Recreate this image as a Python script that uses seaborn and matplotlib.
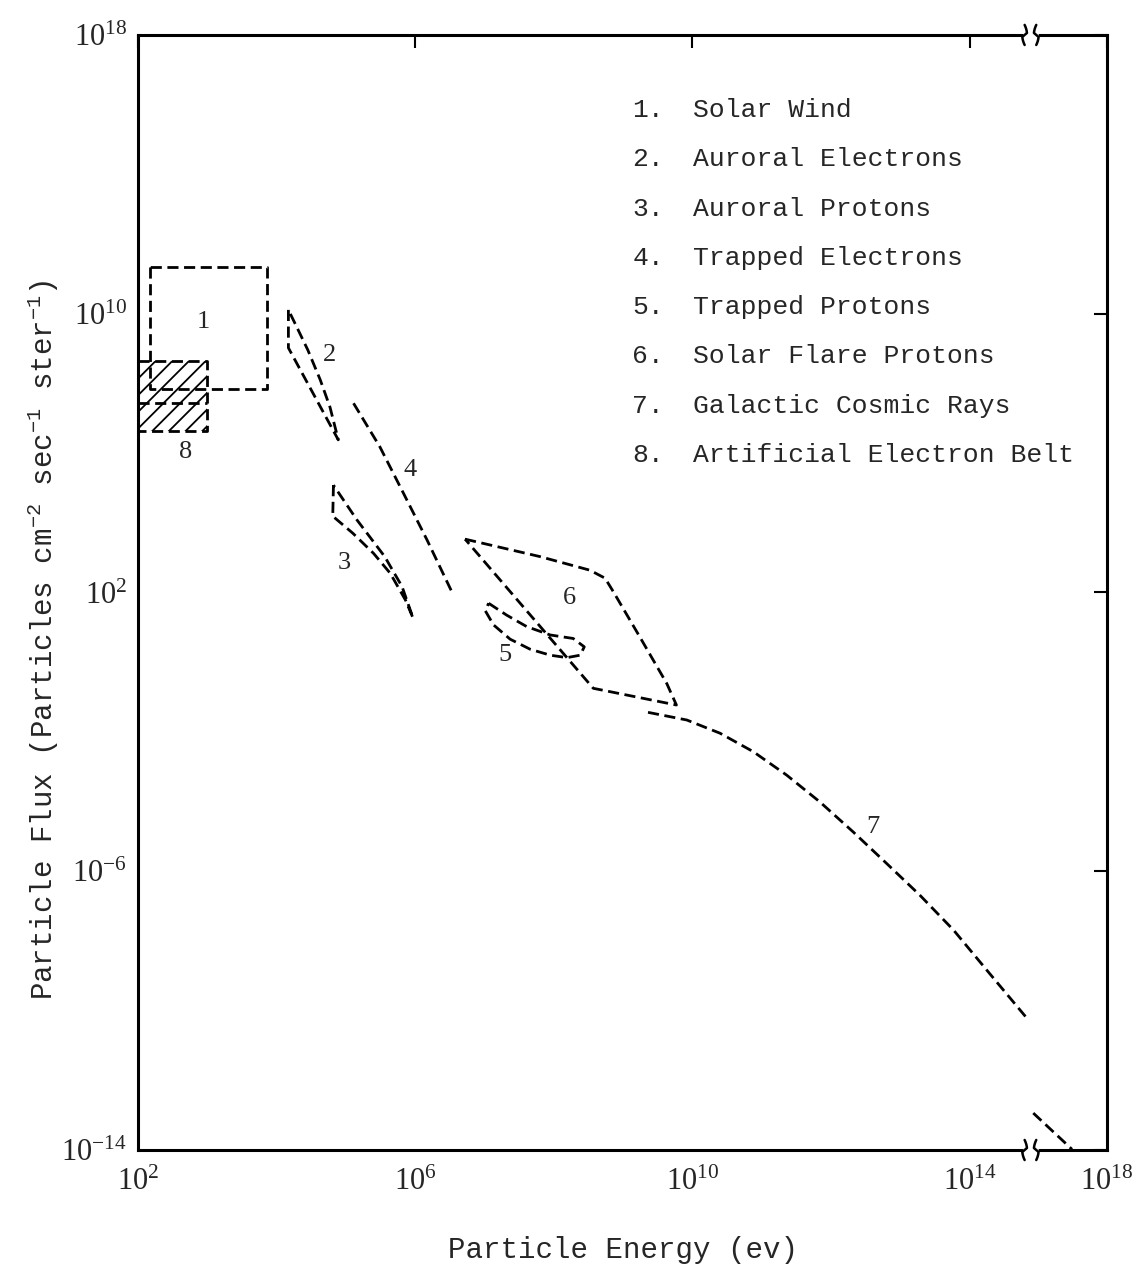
import numpy as np
import matplotlib
matplotlib.use("Agg")
import matplotlib.pyplot as plt
import seaborn as sns
from matplotlib.ticker import FixedLocator, FixedFormatter, NullLocator

# --- valores (log10 energia eV, log10 flujo) ---
wind_loge = [2.17, 2.17, 3.86, 3.86, 2.17]
wind_logf = [11.34, 7.84, 7.84, 11.34, 11.34]

belt_loge = [2.0, 3.0]
belt_logf_low = 6.63
belt_logf_high = 8.64
belt_logf_mid = 7.44

aur_e_loge = [4.17, 4.17, 4.89, 4.77, 4.63, 4.45, 4.29, 4.17]
aur_e_logf = [10.11, 9.02, 6.38, 7.32, 8.10, 8.96, 9.62, 10.11]

aur_p_loge = [4.82, 4.81, 5.10, 5.40, 5.64, 5.86, 5.97, 5.81, 5.56, 5.16, 4.82]
aur_p_logf = [5.08, 4.19, 3.70, 3.12, 2.55, 1.78, 1.26, 2.17, 3.03, 4.08, 5.08]

trap_e_loge = [5.11, 5.49, 5.83, 6.17, 6.55]
trap_e_logf = [7.43, 6.18, 4.85, 3.51, 1.93]

trap_p_loge = [7.06, 7.32, 7.61, 7.95, 8.28, 8.44, 8.38, 8.19, 7.95, 7.66, 7.37, 7.13, 7.01, 7.06]
trap_p_logf = [1.69, 1.35, 1.02, 0.78, 0.68, 0.44, 0.20, 0.13, 0.20, 0.37, 0.66, 1.07, 1.48, 1.69]

flare_loge = [6.72, 7.80, 8.52, 8.74, 8.86, 9.24, 9.63, 9.77, 8.57, 6.72]
flare_logf = [3.53, 3.03, 2.64, 2.41, 2.02, 0.73, -0.61, -1.23, -0.75, 3.53]

gcr_loge = [9.36, 9.92, 10.40, 10.88, 11.36, 11.84, 12.32, 12.80, 13.28, 13.77, 14.25, 14.85]
gcr_logf = [-1.44, -1.66, -2.04, -2.57, -3.24, -4.01, -4.87, -5.77, -6.68, -7.69, -8.84, -10.27]

gcr_tail_loge = [14.92, 16.46]
gcr_tail_logf = [-12.94, -13.98]

# etiquetas numericas de cada curva
curve_ids = ["1", "2", "3", "4", "5", "6", "7", "8"]
curve_id_loge = [2.94, 4.77, 4.97, 5.93, 7.30, 8.23, 12.61, 2.68]
curve_id_logf = [9.76, 8.82, 2.85, 5.51, 0.20, 1.84, -4.73, 6.03]

leyenda = ["Solar Wind", "Auroral Electrons", "Auroral Protons", "Trapped Electrons",
           "Trapped Protons", "Solar Flare Protons", "Galactic Cosmic Rays",
           "Artificial Electron Belt"]

x_ticks_exp = [2, 6, 10, 14, 18]
y_ticks_exp = [-14, -6, 2, 10, 18]

# eje x cortado despues de 10^15
X_BREAK = 15.0
X_SQUEEZE = 0.328


def fwd(x):
    lx = np.log10(np.maximum(np.asarray(x, dtype=float), 1e-300))
    return np.where(lx <= X_BREAK, lx, X_BREAK + (lx - X_BREAK) * X_SQUEEZE)


def inv(u):
    u = np.asarray(u, dtype=float)
    lx = np.where(u <= X_BREAK, u, X_BREAK + (u - X_BREAK) / X_SQUEEZE)
    with np.errstate(over='ignore'):
        return 10.0 ** lx


sns.set_style("white")
plt.rcParams['font.family'] = ['Liberation Serif', 'DejaVu Serif']
plt.rcParams['mathtext.fontset'] = 'custom'
plt.rcParams['mathtext.rm'] = 'Liberation Serif'
plt.rcParams['mathtext.it'] = 'Liberation Serif:italic'
plt.rcParams['mathtext.tt'] = 'Liberation Mono'
plt.rcParams['hatch.linewidth'] = 1.3

fig = plt.figure(figsize=(11.39, 12.71), dpi=100)
ax = fig.add_axes([0.1212, 0.0952, 0.8507, 0.8773])

ax.set_xscale('function', functions=(fwd, inv))
ax.set_yscale('log')

dash = (0, (4, 2))
lw = 2.0


def curva(loge, logf):
    sns.lineplot(x=10.0 ** np.array(loge), y=10.0 ** np.array(logf), sort=False,
                 estimator=None, color='black', linewidth=lw, linestyle=dash, ax=ax)


curva(wind_loge, wind_logf)
curva(aur_e_loge, aur_e_logf)
curva(aur_p_loge, aur_p_logf)
curva(trap_e_loge, trap_e_logf)
curva(trap_p_loge, trap_p_logf)
curva(flare_loge, flare_logf)
curva(gcr_loge, gcr_logf)
curva(gcr_tail_loge, gcr_tail_logf)

# cinturon artificial: caja rayada
bx = 10.0 ** np.array(belt_loge)
ax.fill_between(bx, 10.0 ** belt_logf_low, 10.0 ** belt_logf_high,
                facecolor='none', edgecolor='black', hatch='//', linewidth=0)
curva([belt_loge[0], belt_loge[1], belt_loge[1], belt_loge[0]],
      [belt_logf_high, belt_logf_high, belt_logf_low, belt_logf_low])
curva(belt_loge, [belt_logf_mid, belt_logf_mid])

for txt, le, lf in zip(curve_ids, curve_id_loge, curve_id_logf):
    ax.text(10.0 ** le, 10.0 ** lf, txt, fontsize=19, ha='center', va='center')

# lista numerada
for i, nombre in enumerate(leyenda):
    yy = 0.9327 - i * 0.0442
    ax.text(0.510, yy, f"{i + 1}.", transform=ax.transAxes, fontsize=19,
            family='Liberation Mono', va='center', ha='left')
    ax.text(0.573, yy, nombre, transform=ax.transAxes, fontsize=19,
            family='Liberation Mono', va='center', ha='left')

ax.set_xlim(1e2, 1e18)
ax.set_ylim(1e-14, 1e18)
ax.xaxis.set_major_locator(FixedLocator([10.0 ** e for e in x_ticks_exp]))
ax.xaxis.set_major_formatter(FixedFormatter([f"$10^{{{e}}}$" for e in x_ticks_exp]))
ax.yaxis.set_major_locator(FixedLocator([10.0 ** e for e in y_ticks_exp]))
ax.yaxis.set_major_formatter(FixedFormatter([f"$10^{{{e}}}$" for e in y_ticks_exp]))
ax.xaxis.set_minor_locator(NullLocator())
ax.yaxis.set_minor_locator(NullLocator())

ax.tick_params(axis='both', which='major', direction='in', length=9.5, width=1.5,
               top=True, right=True, labelsize=22, color='black')
ax.tick_params(axis='x', pad=13)
ax.tick_params(axis='y', pad=8)

for sp in ax.spines.values():
    sp.set_linewidth(2.2)
    sp.set_color('black')

ax.set_xlabel("Particle Energy (ev)", fontsize=21, family='Liberation Mono')
ax.set_ylabel(r"Particle Flux (Particles cm$\mathtt{^{-2}}$ sec$\mathtt{^{-1}}$ ster$\mathtt{^{-1}}$)",
              fontsize=21, family='Liberation Mono')
ax.xaxis.set_label_coords(0.5, -0.077)
ax.yaxis.set_label_coords(-0.080, 0.458)

# marcas de corte en el eje x
for yb in (0.0, 1.0):
    ax.plot([0.916, 0.926], [yb, yb], color='white', lw=5, transform=ax.transAxes,
            clip_on=False, zorder=6)
    t = np.linspace(-1, 1, 11)
    for x0, sgn in ((0.915, 1), (0.927, -1)):
        ax.plot(x0 + sgn * 0.0025 * (1 - t ** 2) * np.sign(t), yb + 0.009 * t,
                color='black', lw=1.8, transform=ax.transAxes, clip_on=False, zorder=7)

ax.grid(False)
plt.savefig("out.png", dpi=100)
plt.close()
